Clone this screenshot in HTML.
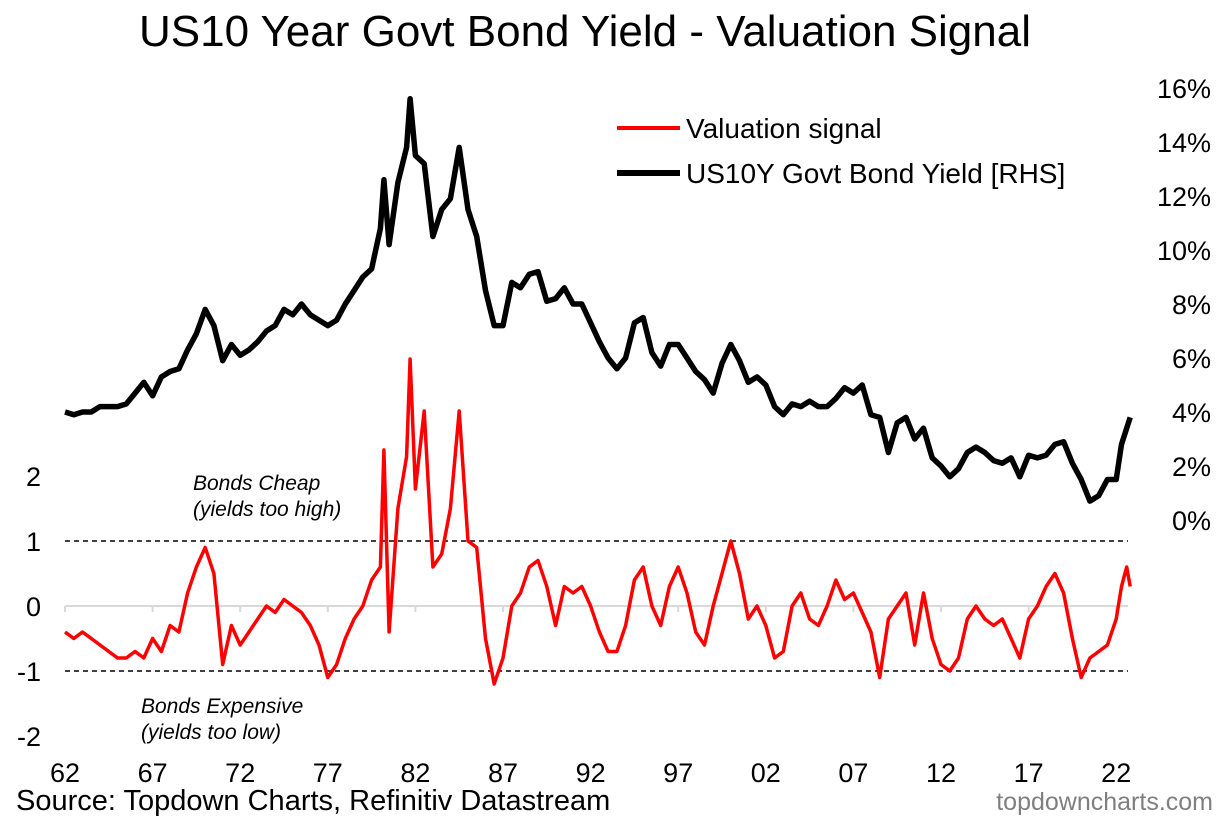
<!DOCTYPE html>
<html><head><meta charset="utf-8"><style>
html,body{margin:0;padding:0;background:#fff;}
svg{display:block;font-family:"Liberation Sans",Arial,sans-serif;}
</style></head><body>
<svg id="chart" width="1230" height="825" viewBox="0 0 1230 825">
<text x="585" y="46" font-size="44" text-anchor="middle">US10 Year Govt Bond Yield - Valuation Signal</text>
<g id="grid"></g>
<g id="xaxis"></g>
<g id="yleft"></g>
<g id="yright"></g>
<g id="series"></g>
<text x="193" y="490" font-size="21" font-style="italic">Bonds Cheap</text>
<text x="193" y="516" font-size="21" font-style="italic">(yields too high)</text>
<text x="141" y="713" font-size="21" font-style="italic">Bonds Expensive</text>
<text x="141" y="739" font-size="21" font-style="italic">(yields too low)</text>
<g>
<line x1="617" y1="128" x2="680" y2="128" stroke="#f00" stroke-width="4"/>
<text x="686" y="138" font-size="28">Valuation signal</text>
<line x1="617" y1="173" x2="680" y2="173" stroke="#000" stroke-width="6"/>
<text x="686" y="183" font-size="28">US10Y Govt Bond Yield [RHS]</text>
</g>
<text x="16" y="810" font-size="29">Source: Topdown Charts, Refinitiv Datastream</text>
<text x="1213" y="810" font-size="25" fill="#7f7f7f" text-anchor="end">topdowncharts.com</text>
</svg>
<script>
const dates=[1962,1962.5,1963,1963.5,1964,1964.5,1965,1965.5,1966,1966.5,1967,1967.5,1968,1968.5,1969,1969.5,1970,1970.5,1971,1971.5,1972,1972.5,1973,1973.5,1974,1974.5,1975,1975.5,1976,1976.5,1977,1977.5,1978,1978.5,1979,1979.5,1980,1980.2,1980.5,1981,1981.5,1981.7,1982,1982.5,1983,1983.5,1984,1984.5,1985,1985.5,1986,1986.5,1987,1987.5,1988,1988.5,1989,1989.5,1990,1990.5,1991,1991.5,1992,1992.5,1993,1993.5,1994,1994.5,1995,1995.5,1996,1996.5,1997,1997.5,1998,1998.5,1999,1999.5,2000,2000.5,2001,2001.5,2002,2002.5,2003,2003.5,2004,2004.5,2005,2005.5,2006,2006.5,2007,2007.5,2008,2008.5,2009,2009.5,2010,2010.5,2011,2011.5,2012,2012.5,2013,2013.5,2014,2014.5,2015,2015.5,2016,2016.5,2017,2017.5,2018,2018.5,2019,2019.5,2020,2020.5,2021,2021.5,2022,2022.3,2022.6,2022.8];
const signal=[-0.4,-0.5,-0.4,-0.5,-0.6,-0.7,-0.8,-0.8,-0.7,-0.8,-0.5,-0.7,-0.3,-0.4,0.2,0.6,0.9,0.5,-0.9,-0.3,-0.6,-0.4,-0.2,0,-0.1,0.1,0,-0.1,-0.3,-0.6,-1.1,-0.9,-0.5,-0.2,0,0.4,0.6,2.4,-0.4,1.5,2.3,3.8,1.8,3,0.6,0.8,1.5,3,1,0.9,-0.5,-1.2,-0.8,0,0.2,0.6,0.7,0.3,-0.3,0.3,0.2,0.3,0,-0.4,-0.7,-0.7,-0.3,0.4,0.6,0,-0.3,0.3,0.6,0.2,-0.4,-0.6,0,0.5,1,0.5,-0.2,0,-0.3,-0.8,-0.7,0,0.2,-0.2,-0.3,0,0.4,0.1,0.2,-0.1,-0.4,-1.1,-0.2,0,0.2,-0.6,0.2,-0.5,-0.9,-1,-0.8,-0.2,0,-0.2,-0.3,-0.2,-0.5,-0.8,-0.2,0,0.3,0.5,0.2,-0.5,-1.1,-0.8,-0.7,-0.6,-0.2,0.3,0.6,0.3];
const yields=[4.0,3.9,4.0,4.0,4.2,4.2,4.2,4.3,4.7,5.1,4.6,5.3,5.5,5.6,6.3,6.9,7.8,7.2,5.9,6.5,6.1,6.3,6.6,7.0,7.2,7.8,7.6,8.0,7.6,7.4,7.2,7.4,8.0,8.5,9.0,9.3,10.8,12.6,10.2,12.5,13.8,15.6,13.5,13.2,10.5,11.5,11.9,13.8,11.5,10.5,8.5,7.2,7.2,8.8,8.6,9.1,9.2,8.1,8.2,8.6,8.0,8.0,7.3,6.6,6.0,5.6,6.0,7.3,7.5,6.2,5.7,6.5,6.5,6.0,5.5,5.2,4.7,5.8,6.5,5.9,5.1,5.3,5.0,4.2,3.9,4.3,4.2,4.4,4.2,4.2,4.5,4.9,4.7,5.0,3.9,3.8,2.5,3.6,3.8,3.0,3.4,2.3,2.0,1.6,1.9,2.5,2.7,2.5,2.2,2.1,2.3,1.6,2.4,2.3,2.4,2.8,2.9,2.1,1.5,0.7,0.9,1.5,1.5,2.8,3.4,3.8];
const xTicks=[1962,1967,1972,1977,1982,1987,1992,1997,2002,2007,2012,2017,2022];
const xTickLabels=["62","67","72","77","82","87","92","97","02","07","12","17","22"];
const leftTicks=[2,1,0,-1,-2];
const rightTicks=[0,2,4,6,8,10,12,14,16];

const NS="http://www.w3.org/2000/svg";
const x=d=>65+(d-1962)*17.52;
const yL=v=>606-v*65;
const yR=v=>520-v*27;
function mk(tag,attrs,parent,txt){const e=document.createElementNS(NS,tag);for(const k in attrs)e.setAttribute(k,attrs[k]);if(txt!==undefined)e.textContent=txt;parent.appendChild(e);return e;}
const grid=document.getElementById('grid'),xa=document.getElementById('xaxis'),yl=document.getElementById('yleft'),yr=document.getElementById('yright'),ser=document.getElementById('series');
const X0=65,X1=1128;
let l=mk('line',{x1:X0,x2:X1,y1:yL(0),y2:yL(0),stroke:'#d9d9d9','stroke-width':2},grid);


[1,-1].forEach(v=>{const d=mk('line',{x1:X0,x2:X1,y1:yL(v),y2:yL(v),stroke:'#000','stroke-width':1.5,'stroke-dasharray':'5,4'},grid);

});
xTicks.forEach((t,i)=>{const tk=mk('line',{x1:x(t),x2:x(t),y1:yL(0),y2:yL(0)+6,stroke:'#d9d9d9','stroke-width':2},xa);


const tx=mk('text',{x:x(t),y:782,'font-size':27,'text-anchor':'middle'},xa,xTickLabels[i]);

});
leftTicks.forEach(v=>{const tx=mk('text',{x:41,y:yL(v)+10,'font-size':27,'text-anchor':'end'},yl,String(v));

});
rightTicks.forEach(v=>{const tx=mk('text',{x:1211,y:yR(v)+10,'font-size':27,'text-anchor':'end'},yr,v+'%');

});
const py=mk('path',{d:yields.map((v,i)=>(i?'L':'M')+x(dates[i]).toFixed(1)+','+yR(v).toFixed(1)).join(''),fill:'none',stroke:'#000','stroke-width':5.5,'stroke-linejoin':'round'},ser);


const ps=mk('path',{d:signal.map((v,i)=>(i?'L':'M')+x(dates[i]).toFixed(1)+','+yL(v).toFixed(1)).join(''),fill:'none',stroke:'#f00','stroke-width':3.5,'stroke-linejoin':'round'},ser);


</script>
</body></html>
